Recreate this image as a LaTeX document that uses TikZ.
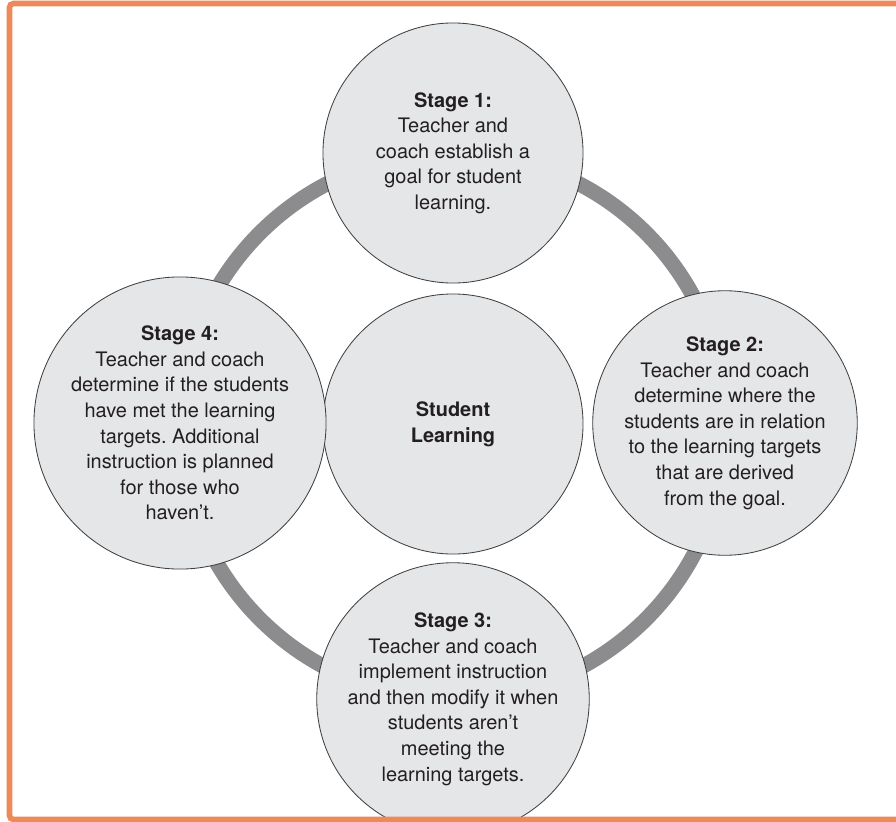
\documentclass[tikz,border=0pt]{standalone}
\usepackage{fontspec}
\setmainfont{TeX Gyre Heros}
\frenchspacing
\definecolor{framecolor}{RGB}{238,137,90}
\definecolor{ringcolor}{RGB}{140,140,142}
\definecolor{stagecolor}{RGB}{229,230,232}
\definecolor{inkcolor}{RGB}{35,31,32}

\begin{document}
\begin{tikzpicture}[x=0.025cm,y=-0.025cm,
  stage/.style={circle,draw=black!75,line width=0.6pt,fill=stagecolor,minimum size=6.5cm,inner sep=0pt,align=center,text=inkcolor,font=\fontsize{14.2}{18.2}\selectfont}]
  \clip (0,0) rectangle (896,822);
  % Cycle
  \coordinate (hub) at (453,426);
  \draw[ringcolor,line width=0.38cm](hub) circle[radius=273];
  % Centre
  \node at(453,424)[stage](learning){\textbf{Student}\\\textbf{Learning}};
  % Stages
  \node at(453,153)[stage](s1){\textbf{Stage 1:}\\Teacher and\\coach establish a\\goal for student\\learning.};
  \node at(725,423)[stage](s2){\textbf{Stage 2:}\\Teacher and coach\\determine where the\\students are in relation\\to the learning targets\\that are derived\\from the goal.};
  \node at(453,699)[stage](s3){\textbf{Stage 3:}\\Teacher and coach\\implement instruction\\and then modify it when\\students aren't\\meeting the\\learning targets.};
  \node at(180,423)[stage](s4){\textbf{Stage 4:}\\Teacher and coach\\determine if the students\\have met the learning\\targets. Additional\\instruction is planned\\for those who\\haven't.};
  % Frame
  \draw[framecolor,line width=0.14cm,rounded corners=0.1cm](9.5,3.5) rectangle (920,819.5);
\end{tikzpicture}
\end{document}
